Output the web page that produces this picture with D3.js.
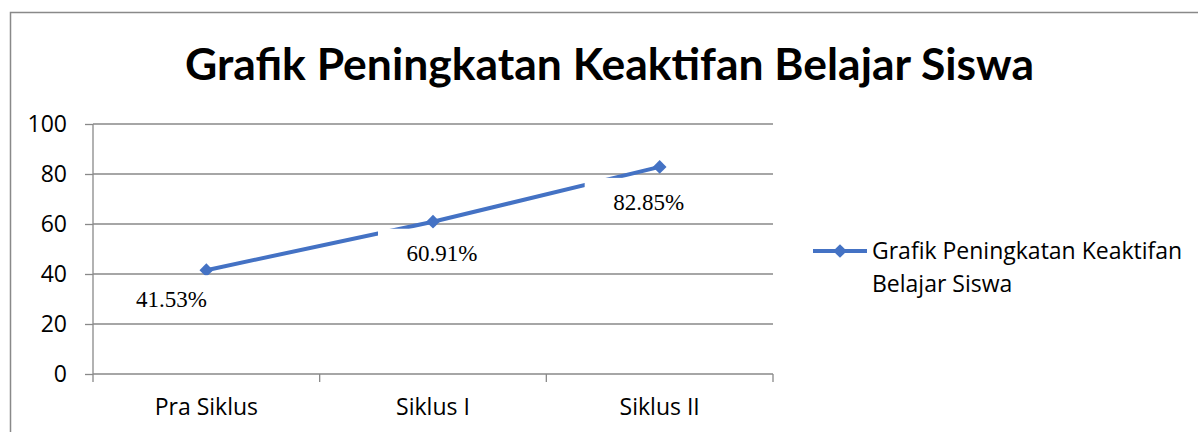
<!DOCTYPE html>
<html>
<head>
<meta charset="utf-8">
<script src="https://cdn.jsdelivr.net/npm/d3@7"></script>
<style>
  html, body { margin: 0; padding: 0; background: #fff; }
  svg { display: block; }
</style>
</head>
<body>
<svg id="chart" width="1198" height="432"></svg>
<script>
// chart data
const categories = ["Pra Siklus", "Siklus I", "Siklus II"];
const values = [41.53, 60.91, 82.85];
const valueLabels = ["41.53%", "60.91%", "82.85%"];
const yTicks = [0, 20, 40, 60, 80, 100];
const seriesName = ["Grafik Peningkatan Keaktifan", "Belajar Siswa"];
const title = "Grafik Peningkatan Keaktifan Belajar Siswa";

// label placement relative to each point (text centre / baseline), hand-positioned in the original
const labelOffsets = [[-35, 37], [9, 39], [-11, 43]];

const blue = "#4472c4";
const grey = "#898989";
const sans = "'Open Sans', Lato, sans-serif";

const svg = d3.select("#chart");

// outer chart frame (runs off the right and bottom of the picture)
svg.append("rect")
  .attr("x", 10.5).attr("y", 12.5)
  .attr("width", 1200).attr("height", 440)
  .attr("fill", "none").attr("stroke", grey).attr("stroke-width", 1.5);

// title, fitted to the width it had in the original
const t = svg.append("text")
  .attr("x", 609.5).attr("y", 80)
  .attr("text-anchor", "middle")
  .style("font-family", "Lato, 'Open Sans', sans-serif").style("font-weight", "bold")
  .style("font-size", "44px").attr("fill", "#000")
  .text(title);
const tw = t.node().getComputedTextLength();
t.style("font-size", (44 * 849 / tw) + "px");

const plot = { left: 93, right: 773, top: 124, bottom: 374 };

const x = d3.scaleBand()
  .domain(categories)
  .range([plot.left, plot.right]);

const y = d3.scaleLinear()
  .domain([0, 100])
  .range([plot.bottom, plot.top]);

// gridlines + y axis
const yAxis = svg.append("g")
  .attr("transform", `translate(${plot.left},0)`)
  .call(d3.axisLeft(y).tickValues(yTicks).tickSize(8).tickPadding(18));
yAxis.select(".domain").remove();
yAxis.selectAll("line").attr("stroke", grey).attr("stroke-width", 1.3);
yAxis.selectAll("text")
  .style("font-family", sans).style("font-size", "23px").attr("fill", "#000");

svg.append("g").selectAll("line")
  .data(yTicks)
  .join("line")
  .attr("x1", plot.left).attr("x2", plot.right)
  .attr("y1", d => y(d)).attr("y2", d => y(d))
  .attr("stroke", grey).attr("stroke-width", 1.3);

svg.append("line")
  .attr("x1", plot.left).attr("x2", plot.left)
  .attr("y1", plot.top).attr("y2", plot.bottom)
  .attr("stroke", grey).attr("stroke-width", 1.3);

// x axis: labels at band centres, tick marks at band edges
const xAxis = svg.append("g")
  .attr("transform", `translate(0,${plot.bottom})`)
  .call(d3.axisBottom(x).tickSize(0).tickPadding(25));
xAxis.select(".domain").remove();
xAxis.selectAll("text")
  .style("font-family", sans).style("font-size", "23px").attr("fill", "#000");

const edges = d3.range(categories.length + 1).map(i => plot.left + i * x.step());
svg.append("g").selectAll("line")
  .data(edges)
  .join("line")
  .attr("x1", d => d).attr("x2", d => d)
  .attr("y1", plot.bottom).attr("y2", plot.bottom + 8)
  .attr("stroke", grey).attr("stroke-width", 1.3);

// series
const pts = categories.map((c, i) => ({
  cx: x(c) + x.bandwidth() / 2,
  cy: y(values[i]),
  label: valueLabels[i],
  off: labelOffsets[i]
}));

svg.append("path")
  .datum(pts)
  .attr("d", d3.line().x(d => d.cx).y(d => d.cy))
  .attr("fill", "none").attr("stroke", blue).attr("stroke-width", 4);

const diamond = d3.symbol().type(d3.symbolDiamond2).size(120);
svg.append("g").selectAll("path")
  .data(pts)
  .join("path")
  .attr("transform", d => `translate(${d.cx},${d.cy})`)
  .attr("d", diamond)
  .attr("fill", blue);

// data labels with white boxes (they hide pieces of the line, as in the original)
const lab = svg.append("g").selectAll("g")
  .data(pts)
  .join("g")
  .attr("transform", d => `translate(${d.cx + d.off[0]},${d.cy + d.off[1]})`);
lab.append("rect")
  .attr("x", -64).attr("y", -32)
  .attr("width", 128).attr("height", 42)
  .attr("fill", "#fff");
lab.append("text")
  .attr("text-anchor", "middle")
  .style("font-family", "'Liberation Serif', 'Times New Roman', serif")
  .style("font-size", "23px").attr("fill", "#000")
  .text(d => d.label);

// legend
const lg = svg.append("g").attr("transform", "translate(813,251)");
lg.append("line")
  .attr("x1", 0).attr("x2", 54).attr("y1", 0).attr("y2", 0)
  .attr("stroke", blue).attr("stroke-width", 4);
lg.append("path")
  .attr("transform", "translate(27,0)")
  .attr("d", diamond)
  .attr("fill", blue);
lg.selectAll("text")
  .data(seriesName)
  .join("text")
  .attr("x", 59)
  .attr("y", (d, i) => 8 + i * 33)
  .style("font-family", sans).style("font-size", "23px").attr("fill", "#000")
  .text(d => d);
</script>
</body>
</html>
